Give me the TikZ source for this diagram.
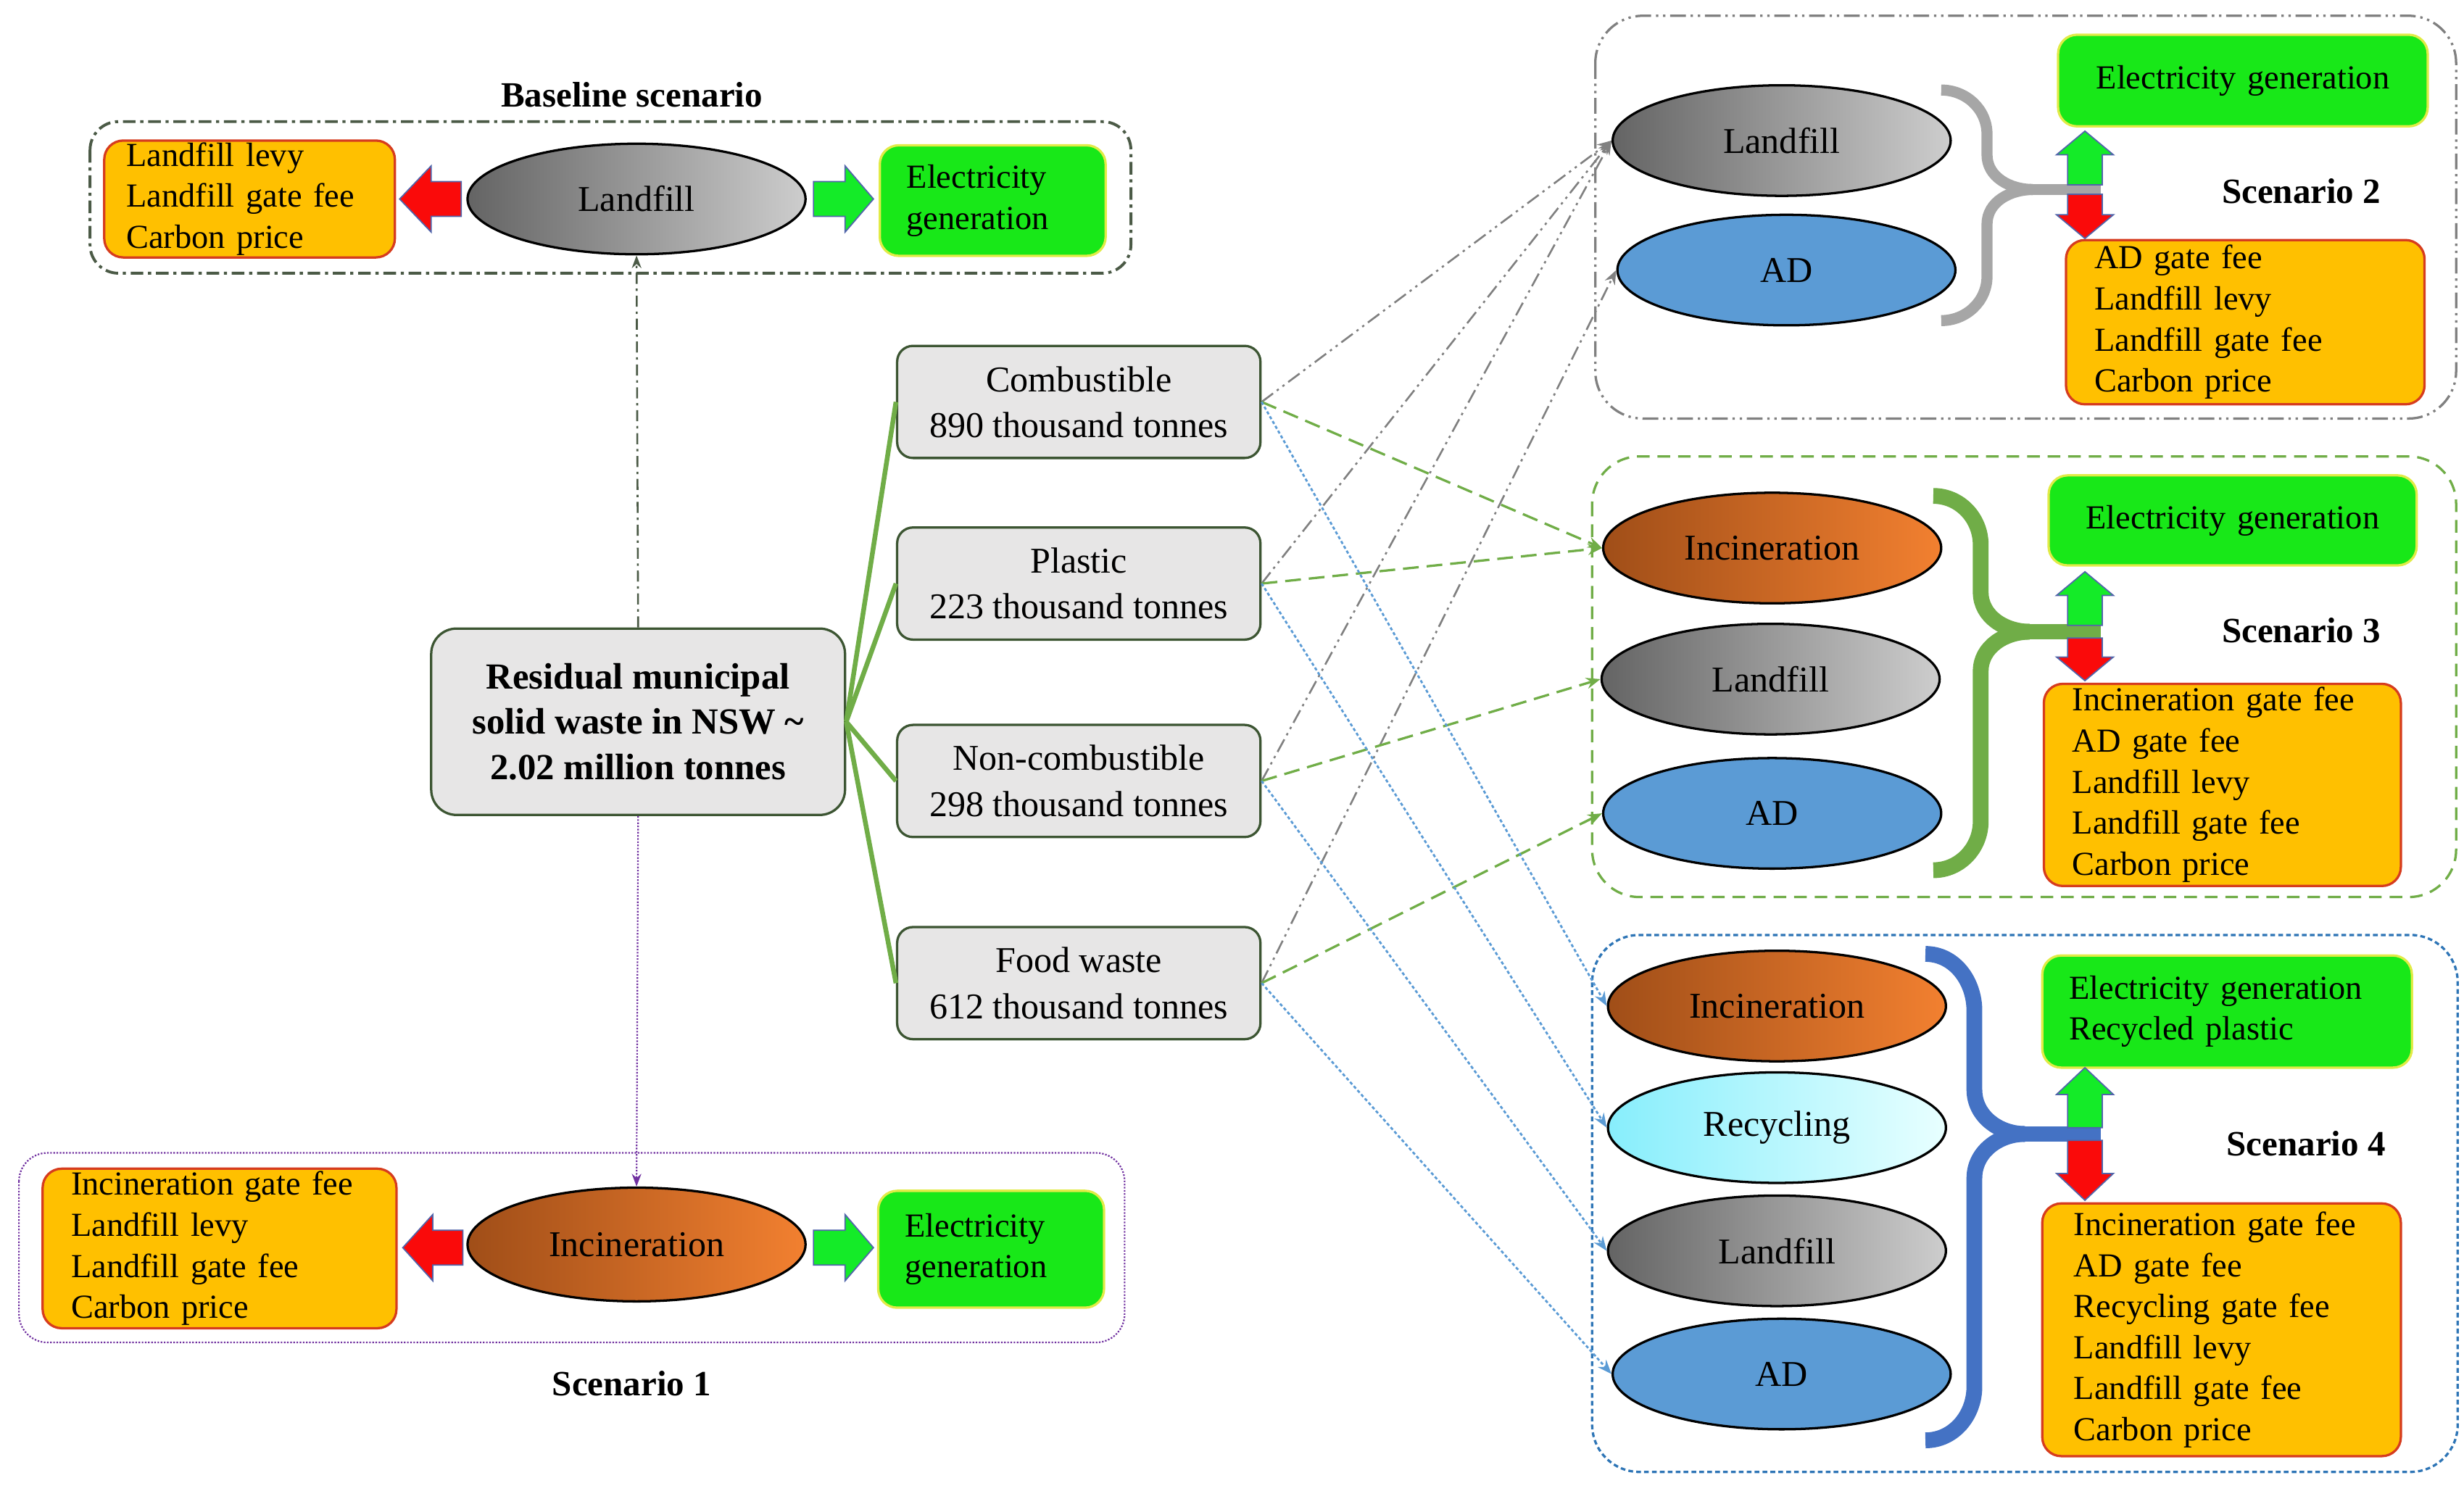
\documentclass[tikz,border=0pt]{standalone}
\usepackage{fontspec}
\setmainfont{Liberation Serif}
\usetikzlibrary{shapes.geometric,arrows.meta}
\definecolor{orfill}{RGB}{255,192,0}
\definecolor{ordraw}{RGB}{214,60,30}
\definecolor{grfill}{RGB}{24,232,24}
\definecolor{grdraw}{RGB}{225,235,70}
\definecolor{catfill}{RGB}{231,230,230}
\definecolor{catdraw}{RGB}{60,85,50}
\definecolor{s2col}{RGB}{128,128,128}
\definecolor{s2brace}{RGB}{166,166,166}
\definecolor{s3col}{RGB}{112,173,71}
\definecolor{s4col}{RGB}{46,117,182}
\definecolor{s4brace}{RGB}{68,114,196}
\definecolor{bluecon}{RGB}{91,155,213}
\definecolor{purp}{RGB}{112,48,160}
\definecolor{basecol}{RGB}{75,90,70}
\definecolor{adblue}{RGB}{91,155,213}
\definecolor{arrline}{RGB}{80,100,170}
\definecolor{lfdark}{RGB}{100,100,100}
\definecolor{lflight}{RGB}{205,205,205}
\definecolor{incdark}{RGB}{160,78,24}
\definecolor{inclight}{RGB}{242,128,48}
\definecolor{recdark}{RGB}{135,238,252}
\definecolor{reclight}{RGB}{232,255,255}
\definecolor{redarr}{RGB}{250,10,10}
\definecolor{greenarr}{RGB}{20,235,40}
\begin{document}
\begin{tikzpicture}[x=1pt,y=-1pt,
  orbox/.style={draw=ordraw, fill=orfill, line width=1.5pt, rounded corners=12pt, align=left, inner xsep=18pt, inner ysep=0pt, font=\fontsize{21.3}{26}\selectfont},
  grbox/.style={draw=grdraw, fill=grfill, line width=1.5pt, rounded corners=12pt, inner xsep=17pt, inner ysep=0pt, font=\fontsize{21.3}{26}\selectfont},
  catbox/.style={draw=catdraw, fill=catfill, line width=1.5pt, rounded corners=10pt, minimum width=230pt, minimum height=71pt, align=center, inner sep=0pt, font=\fontsize{23}{29}\selectfont},
  cenbox/.style={draw=catdraw, fill=catfill, line width=1.5pt, rounded corners=16pt, minimum width=262pt, minimum height=118pt, align=center, inner sep=0pt, font=\fontsize{23.3}{28.5}\selectfont\bfseries},
  ell/.style={ellipse, draw=black, line width=1.5pt, minimum width=214pt, minimum height=70pt, inner sep=0pt, font=\fontsize{23}{28}\selectfont},
  lfell/.style={ell, left color=lfdark, right color=lflight},
  incell/.style={ell, left color=incdark, right color=inclight},
  recell/.style={ell, left color=recdark, right color=reclight},
  adell/.style={ell, fill=adblue},
  lbl/.style={font=\fontsize{22.5}{28}\selectfont\bfseries, inner sep=0pt},
  tree/.style={draw=s3col, line width=3pt},
  greycon/.style={draw=s2col, line width=1.2pt, dash pattern=on 9pt off 3pt on 1.5pt off 3pt on 1.5pt off 3pt, -{Stealth[length=9pt,width=7pt]}},
  greencon/.style={draw=s3col, line width=1.5pt, dash pattern=on 10pt off 5pt, -{Stealth[length=9pt,width=7pt]}},
  bluecn/.style={draw=bluecon, line width=1.3pt, dash pattern=on 2pt off 1.5pt, -{Stealth[length=9pt,width=7pt]}},
  basecon/.style={draw=basecol, line width=1.2pt, dash pattern=on 7pt off 3pt on 1.5pt off 3pt, -{Stealth[length=8pt,width=6pt]}},
  purpcon/.style={draw=purp, line width=1pt, dash pattern=on 1pt off 1pt, -{Stealth[length=8pt,width=6pt]}},
  redblk/.style={fill=redarr, draw=arrline, line width=0.8pt},
  greenblk/.style={fill=greenarr, draw=arrline, line width=0.8pt},
  brace2/.style={draw=s2brace, line width=7pt},
  brace3/.style={draw=s3col, line width=10pt},
  brace4/.style={draw=s4brace, line width=10pt}
]
\useasboundingbox (0,0) rectangle (1560,944);

% ---------- scenario frames ----------
\draw[draw=basecol, line width=1.8pt, rounded corners=18pt, dash pattern=on 8pt off 3pt on 2pt off 3pt] (57,77) rectangle (716,173);
\draw[draw=purp, line width=1pt, rounded corners=18pt, dash pattern=on 1pt off 1pt] (12,730) rectangle (712,850);
\draw[draw=s2col, line width=1.5pt, rounded corners=30pt, dash pattern=on 10pt off 3pt on 1.5pt off 3pt on 1.5pt off 3pt] (1010,10) rectangle (1555,265);
\draw[draw=s3col, line width=1.5pt, rounded corners=30pt, dash pattern=on 8pt off 5pt] (1008,289) rectangle (1555,568);
\draw[draw=s4col, line width=1.5pt, rounded corners=30pt, dash pattern=on 3pt off 2pt] (1008,592) rectangle (1556,932);

% ---------- baseline ----------
\node[lbl] (btitle) at (400,60) {Baseline scenario};
\node[orbox, inner xsep=14pt, text width=156pt, minimum height=74pt] (bOr) at (158,126) {Landfill levy\\Landfill gate fee\\Carbon price};
\node[lfell] (bLand) at (403,126) {Landfill};
\node[grbox, text width=109pt, minimum height=70pt, align=left] (bGr) at (628.5,127) {Electricity\\generation};
\draw[redblk] (253,126) -- (273,105) -- (273,115) -- (292,115) -- (292,137) -- (273,137) -- (273,147) -- cycle;
\draw[greenblk] (553,126) -- (535,105) -- (535,115) -- (515,115) -- (515,137) -- (535,137) -- (535,147) -- cycle;

% ---------- scenario 1 ----------
\node[orbox, text width=188pt, minimum height=101pt] (s1Or) at (139,790.5) {Incineration gate fee\\Landfill levy\\Landfill gate fee\\Carbon price};
\node[incell, minimum height=72pt] (s1Inc) at (403,788) {Incineration};
\node[grbox, text width=109pt, minimum height=74pt, align=left] (s1Gr) at (627.5,791) {Electricity\\generation};
\draw[redblk] (255,790) -- (274,769) -- (274,779) -- (293,779) -- (293,801) -- (274,801) -- (274,811) -- cycle;
\draw[greenblk] (553,790) -- (535,769) -- (535,779) -- (515,779) -- (515,801) -- (535,801) -- (535,811) -- cycle;
\node[lbl] (s1title) at (400,876) {Scenario 1};

% ---------- centre and categories ----------
\node[cenbox] (cen) at (404,457) {Residual municipal\\solid waste in NSW \textasciitilde\\2.02 million tonnes};
\node[catbox] (comb) at (683,254.5) {Combustible\\890 thousand tonnes};
\node[catbox] (plast) at (683,369.5) {Plastic\\223 thousand tonnes};
\node[catbox] (nonc) at (683,494.5) {Non-combustible\\298 thousand tonnes};
\node[catbox] (food) at (683,622.5) {Food waste\\612 thousand tonnes};
\draw[tree] (cen.east) -- (comb.west);
\draw[tree] (cen.east) -- (plast.west);
\draw[tree] (cen.east) -- (nonc.west);
\draw[tree] (cen.east) -- (food.west);

% ---------- scenario 2 ----------
\node[lfell] (s2Land) at (1128,89) {Landfill};
\node[adell] (s2AD) at (1131,171) {AD};
\node[grbox, text width=200pt, minimum height=58pt, align=center] (s2Gr) at (1420,51) {Electricity generation};
\node[orbox, text width=191pt, minimum height=104pt] (s2Or) at (1421.5,204) {AD gate fee\\Landfill levy\\Landfill gate fee\\Carbon price};
\node[lbl] (s2title) at (1457,121) {Scenario 2};
\draw[brace2] (1229,57) to[out=0,in=90] (1258,85) -- (1258,98) to[out=-90,in=180] (1287,120);
\draw[brace2] (1287,120) to[out=180,in=90] (1258,142) -- (1258,175) to[out=-90,in=0] (1229,203);
\draw[brace2] (1282,120) -- (1330,120);
\draw[greenblk] (1320,83) -- (1338,98) -- (1331,98) -- (1331,117) -- (1309,117) -- (1309,98) -- (1302,98) -- cycle;
\draw[redblk] (1320,151) -- (1338,136) -- (1331,136) -- (1331,123) -- (1309,123) -- (1309,136) -- (1302,136) -- cycle;

% ---------- scenario 3 ----------
\node[incell] (s3Inc) at (1122,347) {Incineration};
\node[lfell] (s3Land) at (1121,430) {Landfill};
\node[adell] (s3AD) at (1122,515) {AD};
\node[grbox, text width=199pt, minimum height=57pt, align=center] (s3Gr) at (1413.5,329.5) {Electricity generation};
\node[orbox, text width=190pt, minimum height=128pt] (s3Or) at (1407,497) {Incineration gate fee\\AD gate fee\\Landfill levy\\Landfill gate fee\\Carbon price};
\node[lbl] (s3title) at (1457,399) {Scenario 3};
\draw[brace3] (1224,314) to[out=0,in=90] (1254,345) -- (1254,375) to[out=-90,in=180] (1285,400);
\draw[brace3] (1285,400) to[out=180,in=90] (1254,425) -- (1254,520) to[out=-90,in=0] (1224,551);
\draw[brace3] (1280,400) -- (1330,400);
\draw[greenblk] (1320,362) -- (1338,377) -- (1331,377) -- (1331,396) -- (1309,396) -- (1309,377) -- (1302,377) -- cycle;
\draw[redblk] (1320,431) -- (1338,416) -- (1331,416) -- (1331,404) -- (1309,404) -- (1309,416) -- (1302,416) -- cycle;

% ---------- scenario 4 ----------
\node[incell] (s4Inc) at (1125,637) {Incineration};
\node[recell] (s4Rec) at (1125,714) {Recycling};
\node[lfell] (s4Land) at (1125,792) {Landfill};
\node[adell] (s4AD) at (1128,870) {AD};
\node[grbox, text width=200pt, minimum height=71pt, align=left] (s4Gr) at (1410,640.5) {Electricity generation\\Recycled plastic};
\node[orbox, text width=187pt, inner xsep=20pt, minimum height=160pt] (s4Or) at (1406.5,842) {Incineration gate fee\\AD gate fee\\Recycling gate fee\\Landfill levy\\Landfill gate fee\\Carbon price};
\node[lbl] (s4title) at (1460,724) {Scenario 4};
\draw[brace4] (1219,604) to[out=0,in=90] (1250,640) -- (1250,690) to[out=-90,in=180] (1282,718);
\draw[brace4] (1282,718) to[out=180,in=90] (1250,746) -- (1250,878) to[out=-90,in=0] (1219,912);
\draw[brace4] (1277,718) -- (1330,718);
\draw[greenblk] (1320,676) -- (1338,693) -- (1331,693) -- (1331,714) -- (1309,714) -- (1309,693) -- (1302,693) -- cycle;
\draw[redblk] (1320,760) -- (1338,743) -- (1331,743) -- (1331,722) -- (1309,722) -- (1309,743) -- (1302,743) -- cycle;

% ---------- vertical connectors ----------
\draw[basecon] (cen.north) -- (bLand.south);
\draw[purpcon] (cen.south) -- (s1Inc.north);

% ---------- scenario connectors ----------
\draw[greycon] (comb.east) -- (s2Land.west);
\draw[greycon] (plast.east) -- (s2Land.west);
\draw[greycon] (nonc.east) -- (s2Land.west);
\draw[greycon] (food.east) -- (s2AD.west);

\draw[greencon] (comb.east) -- (s3Inc.west);
\draw[greencon] (plast.east) -- (s3Inc.west);
\draw[greencon] (nonc.east) -- (s3Land.west);
\draw[greencon] (food.east) -- (s3AD.west);

\draw[bluecn] (comb.east) -- (s4Inc.west);
\draw[bluecn] (plast.east) -- (s4Rec.west);
\draw[bluecn] (nonc.east) -- (s4Land.west);
\draw[bluecn] (food.east) -- (s4AD.west);
\end{tikzpicture}
\end{document}
